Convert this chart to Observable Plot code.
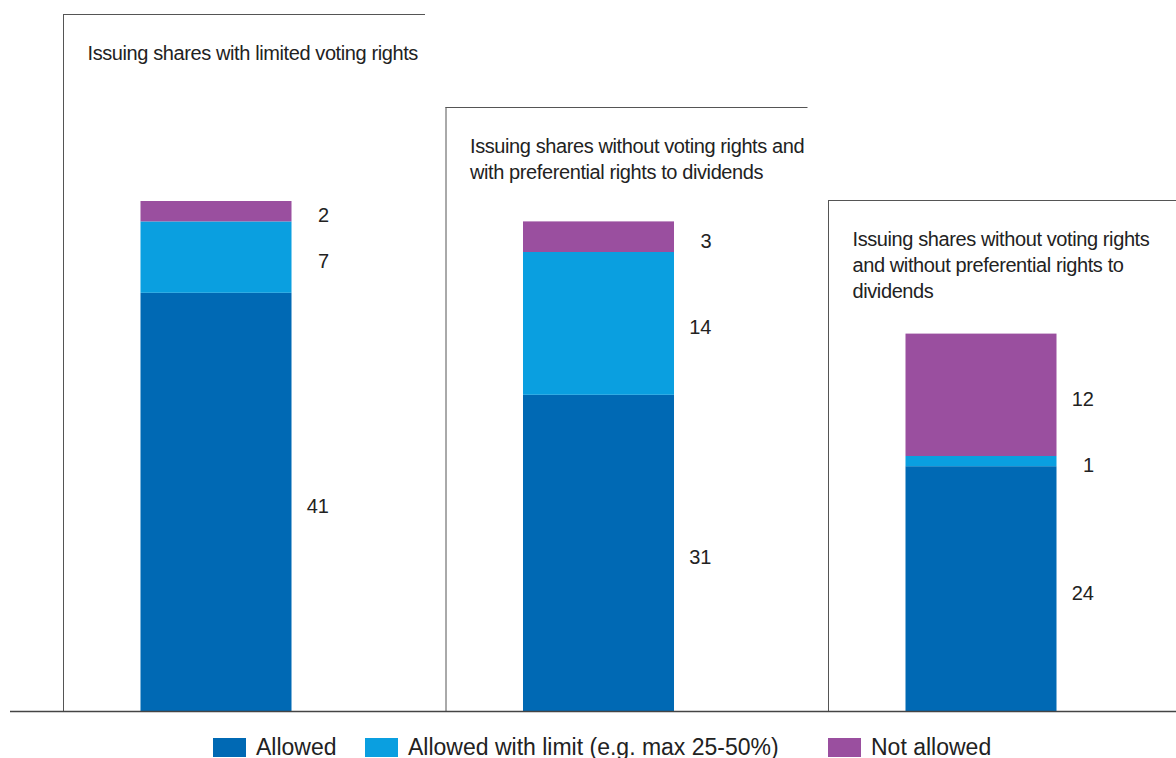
<!DOCTYPE html>
<html>
<head>
<meta charset="utf-8">
<script src="https://cdn.jsdelivr.net/npm/d3@7"></script>
<script src="https://cdn.jsdelivr.net/npm/@observablehq/plot@0.6"></script>
<style>
  html, body { margin: 0; padding: 0; background: #fff; overflow: hidden; }
  body { width: 1176px; height: 758px; font-family: "Liberation Sans", Arial, sans-serif; }
  #chart svg { display: block; }
  #legend { position: relative; height: 30px; font-size: 23px; color: #222; }
  #legend .item { position: absolute; top: 0; height: 30px; display: flex; align-items: center; white-space: nowrap; }
  #legend .sw { width: 33px; height: 19px; margin-right: 10px; }
</style>
</head>
<body>
<div id="chart"></div>
<div id="legend"></div>
<script>
// ---- data ----
const categories = [
  "Issuing shares with limited voting rights",
  "Issuing shares without voting rights and with preferential rights to dividends",
  "Issuing shares without voting rights and without preferential rights to dividends"
];
const titleLines = [
  "Issuing shares with limited voting rights",
  "Issuing shares without voting rights and\nwith preferential rights to dividends",
  "Issuing shares without voting rights\nand without preferential rights to\ndividends"
];
const series = ["Allowed", "Allowed with limit (e.g. max 25-50%)", "Not allowed"];
const allowed = [41, 31, 24];
const allowedWithLimit = [7, 14, 1];
const notAllowed = [2, 3, 12];
const colors = ["#0069b4", "#0a9fe0", "#9a4f9f"];

// ---- table ----
const seriesValues = [allowed, allowedWithLimit, notAllowed];
const rows = categories.flatMap((c, i) =>
  series.map((s, k) => ({category: c, series: s, value: seriesValues[k][i]}))
);

// ---- layout ----
const W = 1176, H = 728, baseline = 711, pxPerUnit = 10.2;
const yMax = baseline / pxPerUnit;
const panelTop = (i) => (baseline - 14 - 93 * i) / pxPerUnit;
const font = "Liberation Sans, Arial, sans-serif";

const chart = Plot.plot({
  width: W,
  height: H,
  marginTop: 0,
  marginBottom: H - baseline,
  marginLeft: 24.75,
  marginRight: 3.75,
  x: {type: "band", domain: categories, paddingInner: 0.6052, paddingOuter: 0.3026, align: 0.5, round: false, axis: null},
  y: {domain: [0, yMax], axis: null},
  color: {domain: series, range: colors},
  style: {fontFamily: font, background: "transparent", overflow: "visible"},
  marks: [
    // panel frames (left and top edges)
    Plot.ruleX(categories, {x: (d) => d, y1: 0, y2: (d, i) => panelTop(i), dx: -153, stroke: "#555", strokeWidth: 1}),
    Plot.ruleY(categories, {y: (d, i) => panelTop(i), x1: (d) => d, x2: (d) => d, insetLeft: -77.5, insetRight: -133.5, stroke: "#555", strokeWidth: 1}),
    // panel titles
    Plot.text(categories, {
      x: (d) => d, y: (d, i) => panelTop(i), text: (d, i) => titleLines[i],
      textAnchor: "start", lineAnchor: "top", dx: -129, dy: 27,
      fontSize: 20, lineHeight: 1.3, fill: "#222"
    }),
    // stacked bars
    Plot.barY(rows, {x: "category", y: "value", fill: "series"}),
    // value labels
    Plot.text(rows, Plot.stackY({
      x: "category", y: "value", z: "series", text: (d) => String(d.value),
      textAnchor: "end", dx: 112.5, dy: 4, fontSize: 20, fill: "#222"
    })),
    // baseline
    Plot.ruleY([0], {stroke: "#444", strokeWidth: 1.5, insetLeft: -14.75, insetRight: -3.75})
  ]
});
// slightly condensed look for the panel titles
const textGroups = chart.querySelectorAll('g[aria-label="text"]');
if (textGroups.length) textGroups[0].setAttribute("letter-spacing", "-0.4");
document.getElementById("chart").appendChild(chart);

// ---- legend ----
const legendX = [213, 365, 828];
const legend = document.getElementById("legend");
legend.style.marginTop = "4px";
series.forEach((s, k) => {
  const item = document.createElement("div");
  item.className = "item";
  item.style.left = legendX[k] + "px";
  const sw = document.createElement("span");
  sw.className = "sw";
  sw.style.background = colors[k];
  const t = document.createElement("span");
  t.textContent = s;
  item.appendChild(sw);
  item.appendChild(t);
  legend.appendChild(item);
});
</script>
</body>
</html>
